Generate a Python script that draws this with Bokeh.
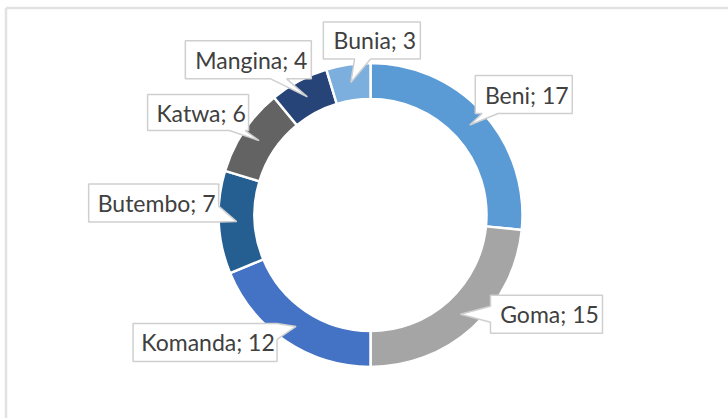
import math
from bokeh.plotting import figure
from bokeh.models import Range1d, ColumnDataSource
from bokeh.core.properties import value
from bokeh.embed import file_html
from bokeh.resources import INLINE

# ---- data ----
cities = ["Beni", "Goma", "Komanda", "Butembo", "Katwa", "Mangina", "Bunia"]
counts = [17, 15, 12, 7, 6, 4, 3]
colors = ["#5B9BD5", "#A5A5A5", "#4472C4", "#255E91", "#636363", "#264478", "#7CAFDD"]

# ---- layout (pixels) ----
W, H = 728, 418
CX, CY = 370, 214.5          # donut centre (screen px, y down)
R_OUT, R_IN = 152, 116
# label box offset from its pointer tip, and box size
lab_dx = [54, 86, -91, -83, -61, -59, 21]
lab_dy = [-30.5, 0, 16, -18.5, -28, -37, -42]
lab_w = [97, 112, 144, 130, 101, 126, 97]
lab_h = [38, 38, 38, 38, 36, 38, 37]

def fy(y):  # screen y -> data y
    return H - y

p = figure(width=W, height=H, output_backend="svg", toolbar_location=None,
           x_range=Range1d(0, W), y_range=Range1d(0, H), min_border=0)
p.axis.visible = False
p.grid.visible = False
p.outline_line_color = None
p.background_fill_color = "white"
p.border_fill_color = "white"

# chart-area frame (extends past the window on right/bottom)
p.segment(x0=[5.5, 5.5], y0=[fy(7.5), fy(7.5)], x1=[5.5, W + 20], y1=[-20, fy(7.5)],
          line_color="#e2e2e2", line_width=2.5)

total = sum(counts)
starts, ends, mids = [], [], []
cum = 0
for c in counts:
    a0 = cum / total
    a1 = (cum + c) / total
    starts.append(math.pi / 2 - 2 * math.pi * a0)
    ends.append(math.pi / 2 - 2 * math.pi * a1)
    mids.append((a0 + a1) / 2)
    cum += c

src = ColumnDataSource(dict(start=starts, end=ends, color=colors, city=cities, n=counts))
p.annular_wedge(x=CX, y=fy(CY), inner_radius=R_IN, outer_radius=R_OUT,
                start_angle="start", end_angle="end", direction="clock",
                fill_color="color", line_color="white", line_width=2.5, source=src)

def callout(cx, cy, w, h, tx, ty, hb=8):
    l, r, t, b = cx - w / 2, cx + w / 2, cy - h / 2, cy + h / 2
    dx, dy = tx - cx, ty - cy
    if abs(dx) / (w / 2) > abs(dy) / (h / 2):
        yi = cy + dy * (w / 2) / abs(dx)
        yi = min(max(yi, t + hb), b - hb)
        if dx > 0:
            pts = [(l, t), (r, t), (r, yi - hb), (tx, ty), (r, yi + hb), (r, b), (l, b)]
        else:
            pts = [(l, t), (r, t), (r, b), (l, b), (l, yi + hb), (tx, ty), (l, yi - hb)]
    else:
        xi = cx + dx * (h / 2) / abs(dy)
        xi = min(max(xi, l + hb), r - hb)
        if dy > 0:
            pts = [(l, t), (r, t), (r, b), (xi + hb, b), (tx, ty), (xi - hb, b), (l, b)]
        else:
            pts = [(l, t), (xi - hb, t), (tx, ty), (xi + hb, t), (r, t), (r, b), (l, b)]
    return [q[0] for q in pts], [fy(q[1]) for q in pts]

xs, ys, tx_, ty_, texts = [], [], [], [], []
rm = (R_OUT + R_IN) / 2
for i, m in enumerate(mids):
    ang = 2 * math.pi * m
    tipx = CX + rm * math.sin(ang)
    tipy = CY - rm * math.cos(ang)
    bx, by = tipx + lab_dx[i], tipy + lab_dy[i]
    px, py = callout(bx, by, lab_w[i], lab_h[i], tipx, tipy)
    xs.append(px)
    ys.append(py)
    tx_.append(bx + 3)
    ty_.append(fy(by))
    texts.append(f"{cities[i]}; {counts[i]}")

p.patches(xs=xs, ys=ys, fill_color="white", line_color="#cfcfcf", line_width=1.5)
p.text(x=tx_, y=ty_, text=texts, text_align="center", text_baseline="middle",
       text_font=value("Lato"), text_font_size="23px", text_color="#404040")

open("out.html", "w").write(file_html(p, INLINE))
